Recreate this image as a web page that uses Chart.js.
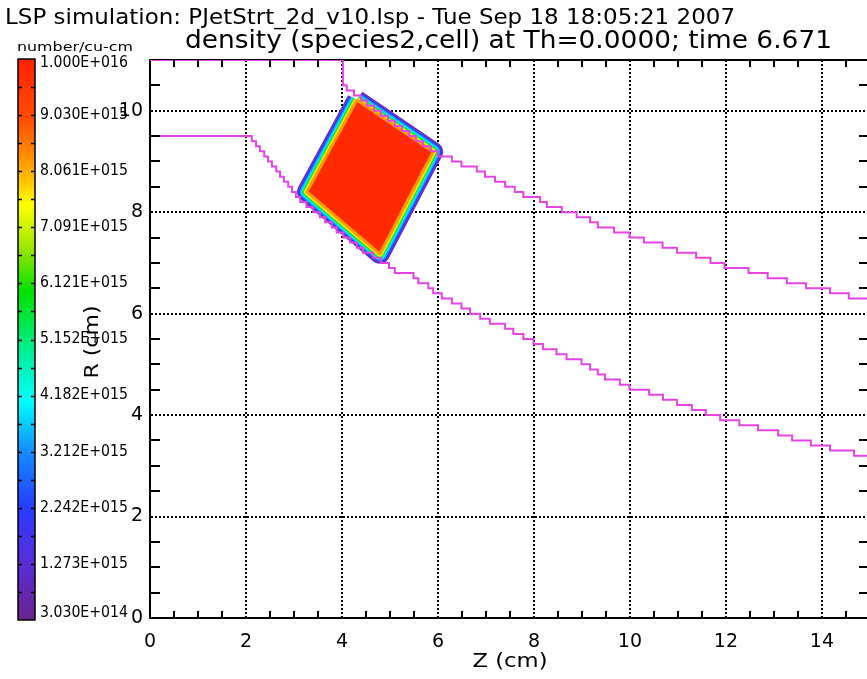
<!DOCTYPE html>
<html>
<head>
<meta charset="utf-8">
<script src="https://cdn.jsdelivr.net/npm/chart.js@4.4.0/dist/chart.umd.min.js"></script>
<style>
  html, body { margin: 0; padding: 0; background: #fff; overflow: hidden; }
  #wrap { width: 867px; height: 679px; }
</style>
</head>
<body>
<div id="wrap"><canvas id="lsp" width="867" height="679"></canvas></div>
<script>
// axis ranges and ticks (cm)
const zMax = 14.94;
const rMax = 11.0;
const zTicks = [0, 2, 4, 6, 8, 10, 12, 14];
const rTicks = [0, 2, 4, 6, 8, 10];

// colour bar labels, bottom to top (number/cu-cm)
const colorbarLabels = ["3.030E+014", "1.273E+015", "2.242E+015", "3.212E+015", "4.182E+015",
  "5.152E+015", "6.121E+015", "7.091E+015", "8.061E+015", "9.030E+015", "1.000E+016"];

// upper wall: Z where each step starts, R level after the step
const upperWallZ = [0, 4.02, 4.10, 4.25, 4.40, 4.52, 4.67, 4.81, 4.96, 5.10, 5.25, 5.40, 5.54, 5.69, 5.85,
  6.00, 6.29, 6.49, 6.81, 6.98, 7.19, 7.40, 7.60, 7.78, 8.13, 8.27, 8.58, 8.89, 9.17, 9.33, 9.67,
  9.99, 10.29, 10.68, 10.98, 11.38, 11.68, 11.97, 12.47, 12.87, 13.27, 13.67, 14.17, 14.56, 14.94];
const upperWallR = [11.0, 10.5, 10.4, 10.3, 10.2, 10.1, 10.0, 9.9, 9.8, 9.7, 9.6, 9.5, 9.4, 9.3, 9.2,
  9.1, 9.0, 8.9, 8.8, 8.7, 8.6, 8.5, 8.4, 8.3, 8.2, 8.1, 8.0, 7.9, 7.8, 7.7, 7.6,
  7.5, 7.4, 7.3, 7.2, 7.1, 7.0, 6.9, 6.8, 6.7, 6.6, 6.5, 6.4, 6.3, 6.3];

// lower wall
const lowerWallZ = [0, 2.12, 2.21, 2.29, 2.38, 2.46, 2.54, 2.63, 2.71, 2.79, 2.88, 2.96, 3.04,
  3.13, 3.26, 3.40, 3.54, 3.65, 3.79, 3.89, 4.03, 4.17, 4.31, 4.44, 4.65, 4.81,
  4.98, 5.10, 5.49, 5.59, 5.80, 5.90, 6.08, 6.29, 6.49, 6.67, 6.88, 7.08, 7.40, 7.57, 7.78, 7.99,
  8.19, 8.47, 8.68, 8.99, 9.17, 9.33, 9.48, 9.79, 9.99, 10.40, 10.69, 10.98, 11.29, 11.58, 11.88,
  12.28, 12.67, 13.09, 13.38, 13.77, 14.17, 14.67, 14.94];
const lowerWallR = [9.5, 9.4, 9.3, 9.2, 9.1, 9.0, 8.9, 8.8, 8.7, 8.6, 8.5, 8.4, 8.3,
  8.2, 8.1, 8.0, 7.9, 7.8, 7.7, 7.6, 7.5, 7.4, 7.3, 7.2, 7.1, 7.0,
  6.9, 6.8, 6.7, 6.6, 6.5, 6.4, 6.3, 6.2, 6.1, 6.0, 5.9, 5.8, 5.7, 5.6, 5.5, 5.4,
  5.3, 5.2, 5.1, 5.0, 4.9, 4.8, 4.7, 4.6, 4.5, 4.4, 4.3, 4.2, 4.1, 4.0, 3.9,
  3.8, 3.7, 3.6, 3.5, 3.4, 3.3, 3.2, 3.2];

// dense (red) core of the species2 blob, corners in order, closed
const blobZ = [4.31, 5.90, 4.79, 3.27, 4.31];
const blobR = [10.21, 9.19, 7.18, 8.40, 10.21];

function toPoints(zs, rs) {
  return zs.map(function (z, i) { return { x: z, y: rs[i] }; });
}

// rim of the blob, outside -> inside (stroke widths give the ring thickness)
const rims = [
  { color: "#6a30c8", width: 20 },
  { color: "#2a3cff", width: 16.5 },
  { color: "#10a8ff", width: 14 },
  { color: "#00f0f0", width: 11.5 },
  { color: "#20e040", width: 9 },
  { color: "#e8f000", width: 6 }
];

const datasets = [
  { label: "upper wall", data: toPoints(upperWallZ, upperWallR), showLine: true, stepped: true,
    borderColor: "#e444e4", borderWidth: 2, pointRadius: 0, fill: false, order: 0 },
  { label: "lower wall", data: toPoints(lowerWallZ, lowerWallR), showLine: true, stepped: true,
    borderColor: "#e444e4", borderWidth: 2, pointRadius: 0, fill: false, order: 0 },
  { label: "core", data: toPoints(blobZ, blobR), showLine: true, fill: "shape",
    backgroundColor: "#ff2a00", borderColor: "#ff9a00", borderWidth: 3,
    borderJoinStyle: "round", pointRadius: 0, order: 1 }
];
rims.slice().reverse().forEach(function (rim, i) {
  datasets.push({ label: "rim" + i, data: toPoints(blobZ, blobR), showLine: true, fill: false,
    borderColor: rim.color, borderWidth: rim.width, borderJoinStyle: "round",
    pointRadius: 0, order: 2 + i });
});

function fitText(ctx, text, x, y, size, width, align) {
  ctx.font = size + "px 'DejaVu Sans'";
  const w = ctx.measureText(text).width;
  const sx = width / w;
  ctx.save();
  ctx.translate(x, y);
  ctx.scale(sx, 1);
  ctx.textAlign = align || "left";
  ctx.fillText(text, 0, 0);
  ctx.restore();
}

const decor = {
  id: "decor",
  beforeDatasetsDraw(chart) {
    const ctx = chart.ctx, a = chart.chartArea;
    ctx.save();
    ctx.strokeStyle = "#000";
    ctx.lineWidth = 2;
    ctx.beginPath();
    ctx.moveTo(a.left, a.top);
    ctx.lineTo(a.right, a.top);
    ctx.stroke();
    ctx.restore();
  },
  afterDraw(chart) {
    const ctx = chart.ctx, a = chart.chartArea;
    const xs = chart.scales.x, ys = chart.scales.y;
    ctx.save();
    ctx.strokeStyle = "#000";
    ctx.lineWidth = 2;
    ctx.beginPath();
    for (let k = 1; k * 0.5 < xs.max; k++) {
      if (k % 4 === 0) continue;
      const px = Math.round(xs.getPixelForValue(k * 0.5));
      ctx.moveTo(px, a.bottom); ctx.lineTo(px, a.bottom - 7);
      ctx.moveTo(px, a.top); ctx.lineTo(px, a.top + 7);
    }
    for (let k = 1; k * 0.5 < ys.max; k++) {
      if (k % 4 === 0) continue;
      const py = Math.round(ys.getPixelForValue(k * 0.5));
      ctx.moveTo(a.left, py); ctx.lineTo(a.left + 10, py);
      ctx.moveTo(a.right, py); ctx.lineTo(a.right - 8, py);
    }
    ctx.stroke();

    // colour bar
    const cbL = 18, cbR = 35, cbT = 59, cbB = 620;
    const g = ctx.createLinearGradient(0, cbB, 0, cbT);
    g.addColorStop(0.00, "rgb(105,35,140)");
    g.addColorStop(0.10, "rgb(90,45,215)");
    g.addColorStop(0.20, "rgb(40,60,255)");
    g.addColorStop(0.30, "rgb(20,140,255)");
    g.addColorStop(0.39, "rgb(0,255,255)");
    g.addColorStop(0.47, "rgb(0,240,160)");
    g.addColorStop(0.585, "rgb(0,225,0)");
    g.addColorStop(0.66, "rgb(150,230,0)");
    g.addColorStop(0.74, "rgb(255,255,0)");
    g.addColorStop(0.81, "rgb(255,160,0)");
    g.addColorStop(0.89, "rgb(255,80,0)");
    g.addColorStop(1.00, "rgb(255,32,0)");
    ctx.fillStyle = g;
    ctx.fillRect(cbL, cbT, cbR - cbL, cbB - cbT);
    ctx.lineWidth = 1.5;
    ctx.strokeRect(cbL, cbT, cbR - cbL, cbB - cbT);
    const n = colorbarLabels.length - 1;
    const step = (cbB - cbT) / n;
    ctx.beginPath();
    for (let k = 1; k < 2 * n; k++) {
      const py = Math.round(cbB - k * step / 2) + 0.5;
      ctx.moveTo(cbL, py); ctx.lineTo(cbL + 4, py);
      ctx.moveTo(cbR, py); ctx.lineTo(cbR - 4, py);
    }
    ctx.stroke();
    ctx.fillStyle = "#000";
    ctx.textBaseline = "middle";
    colorbarLabels.forEach(function (lab, k) {
      const py = Math.min(Math.max(cbB - k * step, cbT + 4), cbB - 7);
      fitText(ctx, lab, 40, py, 15, 88);
    });

    // titles
    ctx.textBaseline = "alphabetic";
    fitText(ctx, "LSP simulation: PJetStrt_2d_v10.lsp - Tue Sep 18 18:05:21 2007", 5, 24, 21, 730);
    fitText(ctx, "density (species2,cell) at Th=0.0000; time 6.671", 185, 48, 24, 647);
    fitText(ctx, "number/cu-cm", 17, 51, 13, 116);
    ctx.textBaseline = "middle";
    fitText(ctx, "Z (cm)", 510, 662, 19, 75, "center");
    ctx.save();
    ctx.translate(93, 342);
    ctx.rotate(-Math.PI / 2);
    fitText(ctx, "R (cm)", 0, 0, 19, 73, "center");
    ctx.restore();
    ctx.restore();
  }
};

Chart.defaults.font.family = "'DejaVu Sans', sans-serif";
Chart.defaults.color = "#000";

new Chart(document.getElementById("lsp"), {
  type: "scatter",
  data: { datasets: datasets },
  options: {
    responsive: false,
    devicePixelRatio: 1,
    animation: false,
    events: [],
    layout: { padding: { top: 60, left: 0, right: 0, bottom: 0 } },
    plugins: { legend: { display: false }, tooltip: { enabled: false }, title: { display: false } },
    scales: {
      x: {
        type: "linear", min: 0, max: zMax, z: 1,
        afterBuildTicks: function (s) { s.ticks = zTicks.map(function (v) { return { value: v }; }); },
        afterFit: function (s) { s.height = 61; },
        grid: { color: "#000", lineWidth: 2, drawTicks: false },
        border: { display: true, color: "#000", width: 2, dash: [2, 2] },
        ticks: { font: { size: 19 }, padding: 13, maxRotation: 0, autoSkip: false }
      },
      y: {
        type: "linear", min: 0, max: rMax, z: 1,
        afterBuildTicks: function (s) { s.ticks = rTicks.map(function (v) { return { value: v }; }); },
        afterFit: function (s) { s.width = 150; },
        grid: { color: "#000", lineWidth: 2, drawTicks: false },
        border: { display: true, color: "#000", width: 2, dash: [2, 2] },
        ticks: { font: { size: 19 }, padding: 7, autoSkip: false }
      }
    }
  },
  plugins: [decor]
});
</script>
</body>
</html>
